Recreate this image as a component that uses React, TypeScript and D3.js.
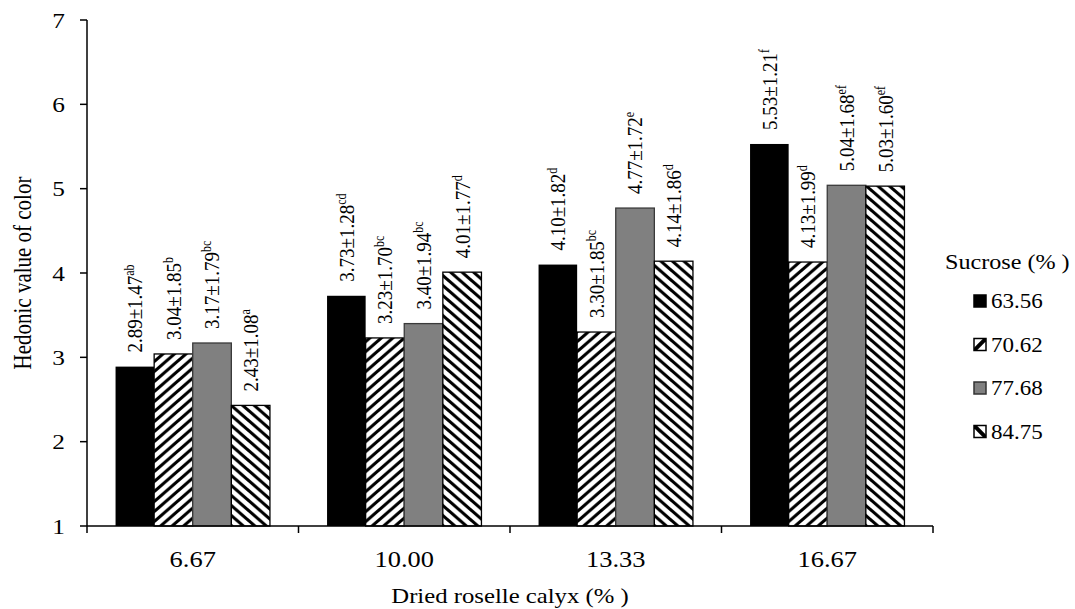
import React from "react";
import * as d3 from "d3";

const categories = ["6.67", "10.00", "13.33", "16.67"];
const seriesNames = ["63.56", "70.62", "77.68", "84.75"];

const values6356 = [2.89, 3.73, 4.10, 5.53];
const sd6356 = [1.47, 1.28, 1.82, 1.21];
const letters6356 = ["ab", "cd", "d", "f"];

const values7062 = [3.04, 3.23, 3.30, 4.13];
const sd7062 = [1.85, 1.70, 1.85, 1.99];
const letters7062 = ["b", "bc", "bc", "d"];

const values7768 = [3.17, 3.40, 4.77, 5.04];
const sd7768 = [1.79, 1.94, 1.72, 1.68];
const letters7768 = ["bc", "bc", "e", "ef"];

const values8475 = [2.43, 4.01, 4.14, 5.03];
const sd8475 = [1.08, 1.77, 1.86, 1.60];
const letters8475 = ["a", "d", "d", "ef"];

const yTicks = [1, 2, 3, 4, 5, 6, 7];

const seriesValues = [values6356, values7062, values7768, values8475];
const seriesSd = [sd6356, sd7062, sd7768, sd8475];
const seriesLetters = [letters6356, letters7062, letters7768, letters8475];

const FONT = "'Liberation Serif', 'Times New Roman', serif";
const SX = 1.15;

const fills = ["#000000", "url(#hatchUp)", "#808080", "url(#hatchDown)"];
const strokes = ["#000000", "#000000", "#3a3a3a", "#000000"];

export default function App() {
  const W = 1075;
  const H = 609;
  const x0 = 87;
  const x1 = 933;
  const y = d3.scaleLinear().domain([1, 7]).range([526, 20]);
  const xBand = d3.scaleBand<string>().domain(categories).range([x0, x1]).padding(0);
  const step = xBand.bandwidth();
  const groupW = step * 0.73;
  const inner = d3
    .scaleBand<string>()
    .domain(seriesNames)
    .range([(step - groupW) / 2, (step + groupW) / 2])
    .padding(0);
  const bw = inner.bandwidth();
  const base = y(1);

  const labelFont = 19;
  const boundaries = [...categories.map((c) => xBand(c) as number), x1];

  return (
    <svg
      width={W}
      height={H}
      style={{ position: "absolute", left: 0, top: 0, background: "#fff", fontFamily: FONT }}
    >
      <defs>
        <pattern
          id="hatchUp"
          patternUnits="userSpaceOnUse"
          width={10}
          height={10}
          patternTransform={`scale(${SX},1)`}
        >
          <rect width={10} height={10} fill="#fff" />
          <path d="M-1,1 L1,-1 M0,10 L10,0 M9,11 L11,9" stroke="#000" strokeWidth={2.9} />
        </pattern>
        <pattern
          id="hatchDown"
          patternUnits="userSpaceOnUse"
          width={10}
          height={10}
          patternTransform={`scale(${SX},1)`}
        >
          <rect width={10} height={10} fill="#fff" />
          <path d="M-1,9 L1,11 M0,0 L10,10 M9,-1 L11,1" stroke="#000" strokeWidth={2.9} />
        </pattern>
        <clipPath id="legClip">
          <rect x={0} y={0} width={12} height={12} />
        </clipPath>
      </defs>

      {/* bars */}
      {categories.map((c, ci) => (
        <g key={c} transform={`translate(${xBand(c)},0)`}>
          {seriesNames.map((s, si) => {
            const v = seriesValues[si][ci];
            const bx = inner(s) as number;
            const top = y(v);
            return (
              <rect
                key={s}
                x={bx}
                y={top}
                width={bw}
                height={base - top}
                fill={fills[si]}
                stroke={strokes[si]}
                strokeWidth={si === 0 ? 0 : 1.3}
              />
            );
          })}
        </g>
      ))}

      {/* data labels */}
      {categories.map((c, ci) =>
        seriesNames.map((s, si) => {
          const v = seriesValues[si][ci];
          const cx = (xBand(c) as number) + (inner(s) as number) + bw / 2;
          const top = y(v);
          const tx = cx + 0.34 * labelFont * SX;
          const ty = top - 14;
          return (
            <text
              key={`${c}-${s}`}
              transform={`translate(${tx},${ty}) scale(${SX},1) rotate(-90)`}
              fontSize={labelFont}
              fill="#000"
              textAnchor="start"
            >
              {`${v.toFixed(2)}±${seriesSd[si][ci].toFixed(2)}`}
              <tspan fontSize={12} dy={-7}>
                {seriesLetters[si][ci]}
              </tspan>
            </text>
          );
        })
      )}

      {/* y axis */}
      <line x1={x0} x2={x0} y1={y(7)} y2={base} stroke="#000" strokeWidth={1.5} />
      {yTicks.map((t) => (
        <g key={t}>
          <line x1={x0 - 7} x2={x0} y1={y(t)} y2={y(t)} stroke="#000" strokeWidth={1.5} />
          <text
            transform={`translate(${x0 - 22},${y(t)}) scale(${SX},1)`}
            textAnchor="end"
            dy="0.35em"
            fontSize={22}
          >
            {t}
          </text>
        </g>
      ))}

      {/* x axis */}
      <line x1={x0} x2={x1} y1={base} y2={base} stroke="#000" strokeWidth={1.5} />
      {boundaries.map((bx, i) => (
        <line key={i} x1={bx} x2={bx} y1={base} y2={base + 7} stroke="#000" strokeWidth={1.5} />
      ))}
      {categories.map((c) => (
        <text
          key={c}
          transform={`translate(${(xBand(c) as number) + step / 2},567) scale(${SX},1)`}
          textAnchor="middle"
          fontSize={23}
        >
          {c}
        </text>
      ))}

      {/* axis titles */}
      <text
        transform={`translate(${(x0 + x1) / 2},603) scale(${SX},1)`}
        textAnchor="middle"
        fontSize={21.5}
      >
        Dried roselle calyx (% )
      </text>
      <text
        transform={`translate(31,${(y(7) + base) / 2}) scale(${SX},1) rotate(-90)`}
        textAnchor="middle"
        fontSize={21}
      >
        Hedonic value of color
      </text>

      {/* legend */}
      <text transform={`translate(945,262) scale(${SX},1)`} dy="0.35em" fontSize={21}>
        Sucrose (% )
      </text>
      {seriesNames.map((s, si) => {
        const cy = 301 + si * 43.5;
        return (
          <g key={s}>
            <g transform={`translate(974,${cy - 6})`}>
              <rect x={0} y={0} width={12} height={12} fill={si === 0 ? "#000" : si === 2 ? "#808080" : "#fff"} />
              {si === 1 && (
                <path d="M0,12 L12,0" stroke="#000" strokeWidth={4} clipPath="url(#legClip)" />
              )}
              {si === 3 && (
                <path d="M0,0 L12,12" stroke="#000" strokeWidth={4} clipPath="url(#legClip)" />
              )}
              <rect x={0} y={0} width={12} height={12} fill="none" stroke={si === 2 ? "#333" : "#000"} strokeWidth={1.5} />
            </g>
            <text transform={`translate(991,${cy}) scale(${SX},1)`} dy="0.35em" fontSize={20}>
              {s}
            </text>
          </g>
        );
      })}
    </svg>
  );
}
